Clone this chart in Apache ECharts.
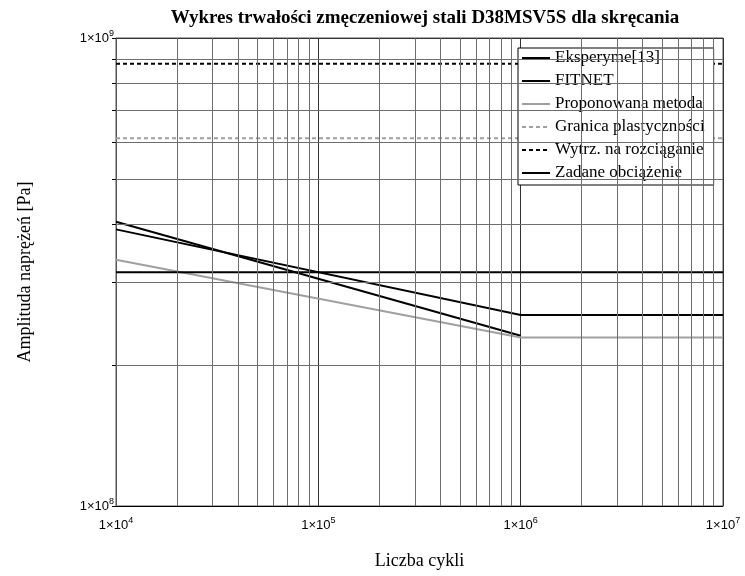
<!DOCTYPE html>
<html>
<head>
<meta charset="utf-8">
<script src="https://cdn.jsdelivr.net/npm/echarts@6/dist/echarts.min.js"></script>
<style>
  html, body { margin: 0; padding: 0; background: #fff; }
  #chart { width: 745px; height: 576px; }
</style>
</head>
<body>
<div id="chart"></div>
<script>
// dane
var cykle = [1e4, 1e6, 1e7];
var eksperyment = [3.90e8, 2.56e8, 2.56e8];
var cykleFitnet = [1e4, 1e6];
var fitnet = [4.05e8, 2.31e8];
var proponowana = [3.36e8, 2.29e8, 2.29e8];
var zakres = [1e4, 1e7];
var granica = [6.11e8, 6.11e8];
var wytrzymalosc = [8.81e8, 8.81e8];
var zadane = [3.16e8, 3.16e8];
var nazwy = ['Eksperyme[13]', 'FITNET', 'Proponowana metoda', 'Granica plastyczności',
    'Wytrz. na rozciąganie', 'Zadane obciążenie'];

// linie siatki pomocniczej (2..9 w kazdej dekadzie)
var siatkaX = [], siatkaY = [];
[1e4, 1e5, 1e6].forEach(function (d) {
    for (var k = 2; k <= 9; k++) siatkaX.push(k * d);
});
for (var k = 2; k <= 9; k++) siatkaY.push(k * 1e8);

function pary(xs, ys) {
    return xs.map(function (x, i) { return [x, ys[i]]; });
}

var potega = function (v) {
    return '1×10{sup|' + Math.round(Math.log10(v)) + '}';
};
var etykieta = {
    formatter: potega,
    color: '#000',
    fontFamily: 'Liberation Sans',
    fontSize: 13,
    rich: {sup: {fontSize: 9, padding: [0, 0, 9, 0], fontFamily: 'Liberation Sans', color: '#000'}}
};

var chart = echarts.init(document.getElementById('chart'));

function linia(name, data, color, type) {
    return {
        name: name,
        type: 'line',
        data: data,
        symbol: 'none',
        animation: false,
        lineStyle: {color: color, width: 2, type: type || 'solid'},
        itemStyle: {color: color}
    };
}

chart.setOption({
    backgroundColor: '#fff',
    title: {
        text: 'Wykres trwałości zmęczeniowej stali D38MSV5S dla skręcania',
        left: 420,
        textAlign: 'center',
        top: 4,
        textStyle: {fontFamily: 'Liberation Serif', fontSize: 19, fontWeight: 'bold', color: '#000'}
    },
    grid: {
        left: 116, top: 38, right: 22, bottom: 70,
        show: true, borderColor: '#555', borderWidth: 1
    },
    legend: {
        data: nazwy.map(function (n) { return {name: n, itemStyle: {opacity: 0}}; }),
        orient: 'vertical',
        left: 518,
        top: 48,
        itemWidth: 28,
        itemHeight: 14,
        itemGap: 5,
        padding: [1, 9, 3, 3],
        backgroundColor: '#fff',
        borderColor: '#000',
        borderWidth: 1,
        lineStyle: {width: 2, opacity: 1},
        textStyle: {fontFamily: 'Liberation Serif', fontSize: 17, lineHeight: 18, color: '#000'}
    },
    xAxis: {
        type: 'log',
        logBase: 10,
        min: 1e4,
        max: 1e7,
        name: 'Liczba cykli',
        nameLocation: 'middle',
        nameGap: 46,
        nameTextStyle: {fontFamily: 'Liberation Serif', fontSize: 18, color: '#000'},
        axisLine: {lineStyle: {color: '#000', width: 1}},
        axisTick: {show: false},
        axisLabel: Object.assign({margin: 10}, etykieta),
        splitLine: {show: true, lineStyle: {color: '#333', width: 1}}
    },
    yAxis: {
        type: 'log',
        logBase: 10,
        min: 1e8,
        max: 1e9,
        name: 'Amplituda naprężeń [Pa]',
        nameLocation: 'middle',
        nameGap: 82,
        nameTextStyle: {fontFamily: 'Liberation Serif', fontSize: 18, color: '#000'},
        axisLine: {lineStyle: {color: '#555', width: 1}},
        axisTick: {show: true, length: 4, lineStyle: {color: '#000'}, customValues: [1e8].concat(siatkaY, [1e9])},
        axisLabel: Object.assign({margin: 2}, etykieta),
        splitLine: {show: true, lineStyle: {color: '#333', width: 1}}
    },
    series: [
        linia(nazwy[0], pary(cykle, eksperyment), '#000'),
        linia(nazwy[1], pary(cykleFitnet, fitnet), '#000'),
        linia(nazwy[2], pary(cykle, proponowana), '#a0a0a0'),
        linia(nazwy[3], pary(zakres, granica), '#a0a0a0', [4, 3]),
        linia(nazwy[4], pary(zakres, wytrzymalosc), '#000', [4, 3]),
        linia(nazwy[5], pary(zakres, zadane), '#000'),
        {
            name: 'siatka',
            type: 'line',
            data: [],
            z: 1,
            silent: true,
            animation: false,
            markLine: {
                silent: true,
                symbol: 'none',
                animation: false,
                label: {show: false},
                lineStyle: {color: '#6e6e6e', width: 1, type: 'solid'},
                data: siatkaX.map(function (v) { return {xAxis: v}; })
                    .concat(siatkaY.map(function (v) { return {yAxis: v}; }))
            }
        }
    ]
});
</script>
</body>
</html>
